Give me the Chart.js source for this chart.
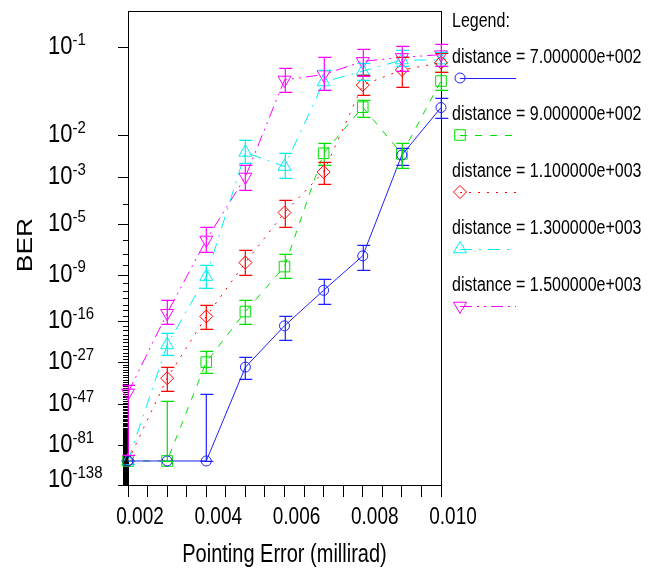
<!DOCTYPE html>
<html><head><meta charset="utf-8">
<script src="https://cdn.jsdelivr.net/npm/chart.js@4/dist/chart.umd.min.js"></script>
<style>html,body{margin:0;padding:0;background:#fff}canvas{display:block}</style>
</head><body>
<canvas id="c" width="660" height="574"></canvas>
<script>
// ---------- data (BER given as log10 values) ----------
const pointingError = [0.002, 0.003, 0.004, 0.005, 0.006, 0.007, 0.008, 0.009, 0.010];
const seriesNames = ['distance = 7.000000e+002', 'distance = 9.000000e+002', 'distance = 1.100000e+003', 'distance = 1.300000e+003', 'distance = 1.500000e+003'];

const ber700     = [-100, -100, -100,  -28.9, -17.0, -10.9, -7.19, -2.41, -1.57];
const ber700Hi   = [-100, -100, -41.2, -25.2, -15.1, -9.48, -6.32, -2.25, -1.45];
const ber700Lo   = [-100, -100, -100,  -33.7, -20.3, -12.9, -8.50, -2.66, -1.71];

const ber900     = [-100, -100, -27.1, -14.2, -8.17, -2.37, -1.565, -2.385, -1.27];
const ber900Hi   = [-100, -45.0, -23.4, -12.3, -7.05, -2.155, -1.474, -2.15, -1.19];
const ber900Lo   = [-100, -100, -31.3, -16.6, -9.40, -2.66, -1.695, -2.735, -1.36];

const ber1100    = [-100, -33.4, -15.1, -7.79, -4.38, -2.85, -1.31, -1.17, -1.11];
const ber1100Hi  = [-100, -28.7, -13.1, -6.70, -3.82, -2.58, -1.21, -1.07, -1.04];
const ber1100Lo  = [-100, -39.3, -17.7, -9.03, -5.13, -3.22, -1.42, -1.33, -1.19];

const ber1300    = [-100, -21.7, -9.22, -2.35, -2.70, -1.28, -1.18, -1.09, -1.09];
const ber1300Hi  = [-100, -18.7, -8.01, -2.09, -2.37, -1.17, -1.11, -1.02, -1.03];
const ber1300Lo  = [-100, -24.6, -10.6, -2.61, -3.03, -1.36, -1.26, -1.14, -1.14];

const ber1500    = [-40.5, -14.5, -5.97, -3.00, -1.26, -1.21, -1.10, -1.07, -1.05];
const ber1500Hi  = [-36.4, -12.3, -5.13, -2.66, -1.155, -1.067, -1.012, -0.99, -0.977];
const ber1500Lo  = [-92,   -16.6, -6.84, -3.43, -1.38, -1.36, -1.22, -1.18, -1.14];

const xTickLabels = ['0.002', '0.004', '0.006', '0.008', '0.010'];
const yMajorExponents = [-1, -2, -3, -5, -9, -16, -27, -47, -81, -138];
const yAxisTopExp = -0.8, yAxisBottomExp = -138;
const xTitle = 'Pointing Error (millirad)', yTitle = 'BER', legendTitle = 'Legend:';

// ---------- BER <-> Q transform (Q-scale axis) ----------
function lnErfc(z) {
  const t = 1 / (1 + 0.5 * z);
  return Math.log(t) + (-z * z - 1.26551223 + t * (1.00002368 + t * (0.37409196 + t * (0.09678418 +
    t * (-0.18628806 + t * (0.27886807 + t * (-1.13520398 + t * (1.48851587 + t * (-0.82215223 + t * 0.17087277)))))))));
}
function berExpFromQ(q) { return (Math.log(0.5) + lnErfc(q / Math.SQRT2)) / Math.LN10; }
const qCache = new Map();
function qAxis(e) {
  if (qCache.has(e)) return qCache.get(e);
  let lo = 0, hi = 60;
  for (let i = 0; i < 80; i++) { const m = (lo + hi) / 2; if (berExpFromQ(m) > e) lo = m; else hi = m; }
  const r = Math.log10(Math.max((lo + hi) / 2, 1e-6));
  qCache.set(e, r); return r;
}

class QScale extends Chart.LinearScale {
  getPixelForValue(v) { return super.getPixelForValue(qAxis(v)); }
  getValueForPixel(p) { return berExpFromQ(Math.pow(10, super.getValueForPixel(p))); }
}
QScale.id = 'qber';
Chart.register(QScale);

const FONT = '"Liberation Sans", Arial, Helvetica, sans-serif';
Chart.defaults.font.family = FONT;
Chart.defaults.color = '#000';

const styles = [
  { color: 'rgb(32,32,255)', dash: [],              point: 'circle',  radius: 5,   rot: 0 },
  { color: 'rgb(0,225,0)',   dash: [7, 8],          point: 'rect',    radius: 7.5, rot: 0 },
  { color: 'rgb(255,0,0)',   dash: [2, 7],          point: 'rectRot', radius: 6.5, rot: 0 },
  { color: 'rgb(0,240,240)', dash: [12, 7, 2, 7],   point: 'triangle',radius: 7.5, rot: 0 },
  { color: 'rgb(255,0,255)', dash: [12, 5, 2, 5, 2, 5], point: 'triangle', radius: 7.5, rot: 180 }
];
const values = [ber700, ber900, ber1100, ber1300, ber1500];
const highs  = [ber700Hi, ber900Hi, ber1100Hi, ber1300Hi, ber1500Hi];
const lows   = [ber700Lo, ber900Lo, ber1100Lo, ber1300Lo, ber1500Lo];

const datasets = values.map((vals, i) => ({
  label: seriesNames[i],
  data: pointingError.map((x, j) => ({ x: x, y: vals[j] })),
  borderColor: styles[i].color,
  backgroundColor: 'rgba(0,0,0,0)',
  borderWidth: 1,
  borderDash: styles[i].dash,
  pointStyle: styles[i].point,
  pointRadius: styles[i].radius,
  pointRotation: styles[i].rot,
  pointBorderColor: styles[i].color,
  pointBackgroundColor: 'rgba(0,0,0,0)',
  pointBorderWidth: 1,
  tension: 0,
  fill: false,
  clip: false
}));

// text drawn slightly stretched vertically, like the reference rendering
function sText(ctx, txt, x, y, size, align, baseline, stretch, rot) {
  ctx.save();
  ctx.translate(x, y);
  if (rot) ctx.rotate(rot);
  if (rot) ctx.scale(stretch, 1); else ctx.scale(1, stretch);
  ctx.font = size + 'px ' + FONT;
  ctx.textAlign = align; ctx.textBaseline = baseline;
  ctx.fillStyle = '#000';
  ctx.fillText(txt, 0, 0);
  const w = ctx.measureText(txt).width;
  ctx.restore();
  return w;
}

const decoPlugin = {
  id: 'deco',
  beforeDatasetsDraw(chart) {
    const ctx = chart.ctx, a = chart.chartArea, ys = chart.scales.y;
    ctx.save();
    ctx.strokeStyle = '#000'; ctx.lineWidth = 1;
    ctx.strokeRect(Math.round(a.left) + 0.5, Math.round(a.top) + 0.5, Math.round(a.right - a.left), Math.round(a.bottom - a.top));
    ctx.beginPath();
    for (let k = 1; k <= 138; k++) {
      const y = Math.round(ys.getPixelForValue(-k)) + 0.5;
      const len = yMajorExponents.includes(-k) ? 10 : 5;
      ctx.moveTo(Math.round(a.left) - len, y); ctx.lineTo(Math.round(a.left) + 0.5, y);
    }
    ctx.stroke();
    ctx.restore();
  },
  afterDatasetsDraw(chart) {
    const ctx = chart.ctx, xs = chart.scales.x, ys = chart.scales.y;
    ctx.save();
    ctx.lineWidth = 1.2; ctx.setLineDash([]); ctx.globalAlpha = 1;
    values.forEach((vals, di) => {
      ctx.strokeStyle = styles[di].color;
      ctx.beginPath();
      pointingError.forEach((xv, j) => {
        const x = Math.round(xs.getPixelForValue(xv)) + 0.3;
        const yT = Math.round(ys.getPixelForValue(highs[di][j])) + 0.3;
        const yB = Math.round(ys.getPixelForValue(lows[di][j])) + 0.3;
        if (Math.abs(yB - yT) < 1) return;
        ctx.moveTo(x, yT); ctx.lineTo(x, yB);
        ctx.moveTo(x - 6, yT); ctx.lineTo(x + 7, yT);
        ctx.moveTo(x - 6, yB); ctx.lineTo(x + 7, yB);
      });
      ctx.stroke();
    });
    ctx.restore();
  },
  afterDraw(chart) {
    const ctx = chart.ctx, a = chart.chartArea, xs = chart.scales.x, ys = chart.scales.y;
    // y tick labels with superscript exponents
    yMajorExponents.forEach(e => {
      let y = ys.getPixelForValue(e);
      y = Math.min(y, a.bottom - 5);
      const w = sText(ctx, '10', 48, y, 22, 'left', 'middle', 1.15);
      sText(ctx, String(e), 48 + w, y - 7, 15, 'left', 'middle', 1.15);
    });
    // x tick labels (offset to the right of their ticks, as in the reference)
    xTickLabels.forEach((lab, i) => {
      const x = xs.getPixelForValue(pointingError[0] + i * 2 * (pointingError[1] - pointingError[0]));
      sText(ctx, lab, x + 12, a.bottom + 32, 19, 'center', 'middle', 1.3);
    });
    // axis titles
    sText(ctx, xTitle, (a.left + a.right) / 2, 555, 20, 'center', 'middle', 1.25);
    sText(ctx, yTitle, 26, (a.top + a.bottom) / 2 - 3, 22, 'center', 'middle', 1.2, -Math.PI / 2);
    // legend
    const lx = a.right + 11;
    sText(ctx, legendTitle, lx, 21, 16, 'left', 'middle', 1.25);
    seriesNames.forEach((name, i) => {
      const ty = 57 + i * 57, sy = ty + 21;
      sText(ctx, name, lx, ty, 16, 'left', 'middle', 1.25);
      ctx.save();
      ctx.strokeStyle = styles[i].color; ctx.lineWidth = 1; ctx.setLineDash(styles[i].dash);
      ctx.beginPath(); ctx.moveTo(a.right + 19, sy + 0.5); ctx.lineTo(a.right + 75, sy + 0.5); ctx.stroke();
      ctx.setLineDash([]);
      ctx.fillStyle = 'rgba(0,0,0,0)';
      Chart.helpers.drawPoint(ctx, { pointStyle: styles[i].point, radius: styles[i].radius, rotation: styles[i].rot, borderWidth: 1 }, a.right + 19, sy);
      ctx.restore();
    });
  }
};

new Chart(document.getElementById('c'), {
  type: 'line',
  data: { datasets: datasets },
  plugins: [decoPlugin],
  options: {
    responsive: false,
    animation: false,
    events: [],
    layout: { padding: { left: 0, right: 219, top: 11, bottom: 0 } },
    plugins: { legend: { display: false }, tooltip: { enabled: false } },
    scales: {
      x: {
        type: 'linear', min: 0.002, max: 0.010, bounds: 'data',
        afterBuildTicks: s => { s.ticks = Array.from({ length: (xTickLabels.length - 1) * 4 + 1 }, (_, i) => ({ value: 0.002 + i * 0.0005 })); },
        afterFit: s => { s.height = 89; },
        grid: { display: true, drawOnChartArea: false, drawTicks: true, tickLength: 12, color: '#000', tickColor: '#000', lineWidth: 1 },
        border: { display: false },
        ticks: { autoSkip: false, maxRotation: 0, minRotation: 0, display: true, color: 'rgba(0,0,0,0)', font: { size: 1 }, callback: () => '' },
        title: { display: false, text: xTitle }
      },
      y: {
        type: 'qber', min: qAxis(yAxisTopExp), max: qAxis(yAxisBottomExp), reverse: true, bounds: 'data',
        afterBuildTicks: s => { s.ticks = yMajorExponents.map(e => ({ value: e })); },
        afterFit: s => { s.width = 128; },
        grid: { display: false }, border: { display: false },
        ticks: { display: false, autoSkip: false },
        title: { display: false, text: yTitle }
      }
    }
  }
});
</script>
</body></html>
